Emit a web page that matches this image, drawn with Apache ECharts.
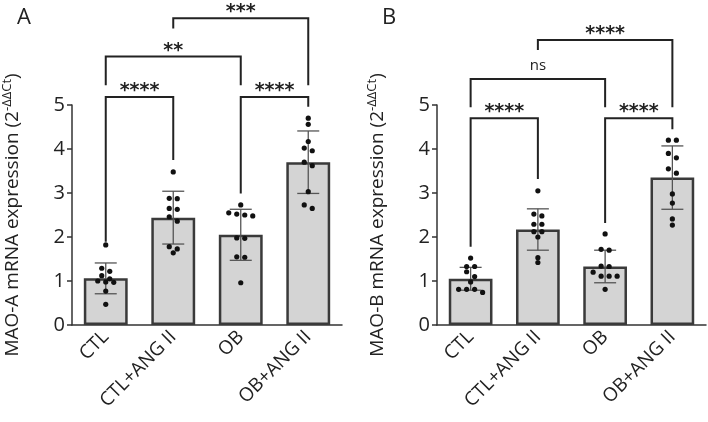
<!DOCTYPE html>
<html>
<head>
<meta charset="utf-8">
<script src="https://cdn.jsdelivr.net/npm/echarts@6/dist/echarts.min.js"></script>
<style>
  html, body { margin: 0; padding: 0; background: #fff; }
  #chart { width: 708px; height: 422px; }
</style>
</head>
<body>
<div id="chart"></div>
<script>
// groups
var categories = ['CTL', 'CTL+ANG II', 'OB', 'OB+ANG II'];

// panel A: MAO-A
var meanA = [1.06, 2.44, 2.05, 3.70];
var sdA = [0.35, 0.60, 0.58, 0.71];
var dotsA = [
  [1.82, 1.29, 1.22, 1.12, 1.00, 0.98, 0.97, 0.77, 0.47, 1.05],
  [3.48, 2.88, 2.87, 2.65, 2.63, 2.46, 2.36, 1.78, 1.73, 1.64],
  [2.73, 2.55, 2.50, 2.48, 1.98, 1.97, 1.55, 1.54, 0.96, 2.52],
  [4.70, 4.56, 4.17, 4.02, 3.96, 3.70, 3.62, 3.03, 2.73, 2.65]
];
// [from, to, top, leftEnd, rightEnd, label]
var bracketsA = [
  [0, 1, 5.18, 1.89, 3.75, '****'],
  [2, 3, 5.18, 2.99, 4.96, '****'],
  [0, 2, 6.10, 5.45, 5.45, '**'],
  [1, 3, 6.97, 6.74, 5.45, '***']
];

// panel B: MAO-B
var meanB = [1.05, 2.17, 1.33, 3.35];
var sdB = [0.26, 0.47, 0.37, 0.72];
var dotsB = [
  [1.52, 1.33, 1.33, 1.21, 1.10, 0.98, 0.81, 0.81, 0.81, 0.74],
  [3.05, 2.52, 2.48, 2.29, 2.29, 2.12, 2.12, 1.53, 1.42, 2.00],
  [2.07, 1.72, 1.70, 1.34, 1.33, 1.11, 1.11, 1.11, 0.81, 1.20],
  [4.20, 4.20, 3.90, 3.55, 3.45, 2.98, 2.77, 2.41, 2.27, 3.80]
];
var bracketsB = [
  [0, 1, 4.70, 1.78, 3.32, '****'],
  [2, 3, 4.70, 2.32, 4.45, '****'],
  [0, 2, 5.59, 4.95, 4.95, 'ns'],
  [1, 3, 6.48, 6.25, 4.95, '****']
];

var FONT = 'Open Sans';
var INK = '#222';

// spread dots of similar value sideways, like a column scatter
function spread(groups) {
  var out = [];
  groups.forEach(function (vals, ci) {
    var sorted = vals.slice().sort(function (a, b) { return b - a; });
    var rows = [];
    sorted.forEach(function (v) {
      var r = rows[rows.length - 1];
      if (r && r[0] - v < 0.11) r.push(v); else rows.push([v]);
    });
    rows.forEach(function (r) {
      r.forEach(function (v, i) {
        out.push([ci, v, (i - (r.length - 1) / 2) * 8]);
      });
    });
  });
  return out;
}

function errData(mean, sd) {
  return mean.map(function (m, i) { return [i, m - sd[i], m + sd[i]]; });
}

function renderErr(params, api) {
  var lo = api.coord([api.value(0), api.value(1)]);
  var hi = api.coord([api.value(0), api.value(2)]);
  var w = 11;
  var st = { stroke: '#555', lineWidth: 1.3 };
  return {
    type: 'group',
    children: [
      { type: 'line', shape: { x1: lo[0], y1: lo[1], x2: hi[0], y2: hi[1] }, style: st },
      { type: 'line', shape: { x1: hi[0] - w, y1: hi[1], x2: hi[0] + w, y2: hi[1] }, style: st },
      { type: 'line', shape: { x1: lo[0] - w, y1: lo[1], x2: lo[0] + w, y2: lo[1] }, style: st }
    ]
  };
}

function renderDot(params, api) {
  var p = api.coord([api.value(0), api.value(1)]);
  return {
    type: 'circle',
    shape: { cx: p[0] + api.value(2), cy: p[1], r: 2.6 },
    style: { fill: '#111' }
  };
}

function renderBracket(params, api) {
  var a = api.coord([api.value(0), api.value(2)]);
  var b = api.coord([api.value(1), api.value(2)]);
  var l = api.coord([api.value(0), api.value(3)]);
  var r = api.coord([api.value(1), api.value(4)]);
  var txt = api.value(5);
  var star = txt.indexOf('*') >= 0;
  return {
    type: 'group',
    children: [
      {
        type: 'polyline',
        shape: { points: [[l[0], l[1]], [a[0], a[1]], [b[0], b[1]], [r[0], r[1]]] },
        style: { stroke: INK, lineWidth: 2, fill: null }
      },
      {
        type: 'text',
        style: {
          text: txt,
          x: (a[0] + b[0]) / 2,
          y: a[1] - (star ? 6 : 13),
          align: 'center',
          verticalAlign: 'middle',
          fill: INK,
          font: (star ? 'bold 19px "DejaVu Sans"' : '15px "Open Sans"')
        }
      }
    ]
  };
}

function xAxisCfg(idx) {
  return {
    type: 'category', gridIndex: idx, data: categories,
    axisLine: { lineStyle: { color: '#333', width: 1.5 } },
    axisTick: { alignWithLabel: true, length: 6, lineStyle: { color: '#333', width: 1.5 } },
    axisLabel: { rotate: 45, fontSize: 19, color: INK, fontFamily: FONT, margin: 9 }
  };
}

function yAxisCfg(idx, name) {
  return {
    type: 'value', gridIndex: idx, min: 0, max: 5, interval: 1,
    name: name, nameLocation: 'middle', nameGap: 47,
    nameTextStyle: {
      color: INK, fontFamily: FONT,
      rich: {
        a: { fontSize: 19, fontFamily: FONT, color: INK },
        s: { fontSize: 13, fontFamily: FONT, color: INK, padding: [0, 0, 11, 0] }
      }
    },
    splitLine: { show: false },
    axisLine: { show: true, lineStyle: { color: '#333', width: 1.5 } },
    axisTick: { show: true, length: 5, lineStyle: { color: '#333', width: 1.5 } },
    axisLabel: { fontSize: 20, color: INK, fontFamily: FONT, margin: 7 }
  };
}

var barStyle = { color: '#d4d4d4', borderColor: '#3a3a3a', borderWidth: 2.5 };

var chart = echarts.init(document.getElementById('chart'), null, { renderer: 'canvas' });

var series = [];
[[meanA, sdA, dotsA, bracketsA], [meanB, sdB, dotsB, bracketsB]].forEach(function (p, i) {
  series.push({
    type: 'bar', xAxisIndex: i, yAxisIndex: i, data: p[0], barWidth: '65%',
    itemStyle: barStyle, silent: true, z: 2
  });
  series.push({
    type: 'custom', xAxisIndex: i, yAxisIndex: i, data: errData(p[0], p[1]),
    renderItem: renderErr, z: 3, silent: true
  });
  series.push({
    type: 'custom', xAxisIndex: i, yAxisIndex: i, data: spread(p[2]),
    renderItem: renderDot, z: 4, silent: true
  });
  series.push({
    type: 'custom', xAxisIndex: i, yAxisIndex: i, data: p[3],
    renderItem: renderBracket, clip: false, z: 5, silent: true
  });
});

chart.setOption({
  animation: false,
  title: [
    { text: 'A', left: 12, top: 2, textStyle: { fontSize: 22, fontWeight: 'normal', color: INK, fontFamily: FONT } },
    { text: 'B', left: 377, top: 2, textStyle: { fontSize: 22, fontWeight: 'normal', color: INK, fontFamily: FONT } }
  ],
  grid: [
    { left: 72, right: 366, top: 105, bottom: 97 },
    { left: 437, right: 2, top: 105, bottom: 97 }
  ],
  xAxis: [xAxisCfg(0), xAxisCfg(1)],
  yAxis: [
    yAxisCfg(0, '{a|MAO-A mRNA expression (2}{s|-ΔΔCt}{a|)}'),
    yAxisCfg(1, '{a|MAO-B mRNA expression (2}{s|-ΔΔCt}{a|)}')
  ],
  series: series
});
</script>
</body>
</html>
